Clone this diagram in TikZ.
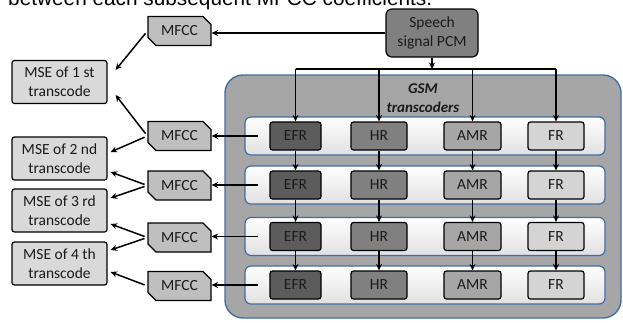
\documentclass[tikz,border=0pt]{standalone}
\usepackage{fontspec}
\setmainfont{Carlito}
\newfontfamily\topfont{Liberation Sans}
\usetikzlibrary{arrows.meta,shapes.misc,calc}
\definecolor{txt}{HTML}{1A1A1A}
\definecolor{blueline}{HTML}{3F6EA8}
\definecolor{contfill}{HTML}{A6A6A6}
\definecolor{efrfill}{HTML}{5C5C5C}
\definecolor{hrfill}{HTML}{808080}
\definecolor{amrfill}{HTML}{A6A6A6}
\definecolor{frfill}{HTML}{D4D4D4}
\definecolor{mfccfill}{HTML}{BFBFBF}
\definecolor{msefill}{HTML}{D9D9D9}
\tikzset{
  lbl/.style={text=txt, font=\fontsize{15.5}{19}\selectfont},
  cbox/.style={lbl, draw=black, line width=1.2pt, rounded corners=2.5pt, minimum height=28pt, inner sep=0pt},
  mfccbox/.style={lbl, draw=black, line width=1.2pt, fill=mfccfill, chamfered rectangle,
    chamfered rectangle corners={north east,south west}, chamfered rectangle xsep=4pt,
    chamfered rectangle ysep=4pt, minimum width=63pt, minimum height=29pt, inner sep=0pt},
  msebox/.style={lbl, draw=black, line width=1.2pt, fill=msefill, rounded corners=2.5pt,
    minimum width=95pt, minimum height=43pt, inner sep=0pt, align=center},
  band/.style={draw=blueline, line width=1.2pt, rounded corners=6pt, top color=white,
    bottom color=black!12, minimum width=360pt, minimum height=38pt, inner sep=0pt},
  arrow/.style={line width=1.5pt, -{Stealth[length=6.5pt,width=6pt]}},
  plain/.style={line width=1.5pt},
}
\begin{document}
\begin{tikzpicture}[x=1pt,y=-1pt]
\useasboundingbox (0,0) rectangle (623,322);
\fill[white] (0,0) rectangle (623,322);
\node[anchor=base west, inner sep=0pt, font=\topfont\fontsize{20.8}{24}\selectfont] (title) at (8,5.5) {between each subsequent MFCC coefficients.};

% container
\node[draw=blueline, line width=1.4pt, fill=contfill, rounded corners=18pt,
  minimum width=396pt, minimum height=243pt, inner sep=0pt] (cont) at (423,196.5) {};
\node[lbl, font=\bfseries\itshape\fontsize{15}{19}\selectfont, align=center] (gsm) at (423,98) {GSM\\transcoders};

% speech
\node[cbox, fill=hrfill, rounded corners=6pt, minimum width=92pt, minimum height=48pt, align=center] (speech) at (432,33) {Speech\\signal PCM};

% bands
\foreach \i/\y in {1/136,2/185,3/236.5,4/285}{
  \node[band] (band\i) at (425,\y) {};
  \node[cbox, fill=efrfill, minimum width=51pt] (efr\i) at (295.5,\y) {EFR};
  \node[cbox, fill=hrfill, minimum width=56pt] (hr\i) at (379,\y) {HR};
  \node[cbox, fill=amrfill, minimum width=57pt] (amr\i) at (472.5,\y) {AMR};
  \node[cbox, fill=frfill, minimum width=56pt] (fr\i) at (556,\y) {FR};
}

% MFCC boxes
\node[mfccbox] (mfcc1) at (179.5,31) {MFCC};
\node[mfccbox] (mfcc2) at (179.5,136) {MFCC};
\node[mfccbox] (mfcc3) at (179.5,185.5) {MFCC};
\node[mfccbox] (mfcc4) at (179.5,237.5) {MFCC};
\node[mfccbox] (mfcc5) at (179.5,286) {MFCC};

% MSE boxes
\node[msebox] (mse1) at (59.5,82) {MSE of 1 st\\transcode};
\node[msebox] (mse2) at (59.5,158.5) {MSE of 2 nd\\transcode};
\node[msebox] (mse3) at (59.5,210.5) {MSE of 3 rd\\transcode};
\node[msebox] (mse4) at (59.5,263.5) {MSE of 4 th\\transcode};

% speech connections
\coordinate (bus) at (432,69);
\draw[arrow] (speech.west) -- (mfcc1.east |- speech.west);
\draw[arrow] (speech.south) -- (bus);
\draw[plain] (efr1.north |- bus) -- (fr1.north |- bus);
\foreach \n in {efr,hr,amr,fr}{
  \draw[arrow] (\n1.north |- bus) -- (\n1.north);
  \draw[arrow] (\n1.south) -- (\n2.north);
  \draw[arrow] (\n2.south) -- (\n3.north);
  \draw[arrow] (\n3.south) -- (\n4.north);
}

% EFR to MFCC
\draw[arrow] ([xshift=-11pt]efr1.west) -- (mfcc2.east |- efr1.west);
\draw[arrow] ([xshift=-11pt]efr2.west) -- (mfcc3.east |- efr2.west);
\draw[arrow] ([xshift=-11pt]efr3.west) -- (mfcc4.east |- efr3.west);
\draw[arrow] ([xshift=-11pt]efr4.west) -- (mfcc5.east |- efr4.west);

% MFCC to MSE
\draw[arrow, shorten <=3pt] (mfcc1.west) -- ($(mse1.east)+(8,-12)$);
\draw[arrow, shorten <=3pt] (mfcc2.west) -- ($(mse1.east)+(8,13)$);
\draw[arrow, shorten <=3pt] (mfcc2.west) -- ($(mse2.east)+(3,-6.5)$);
\draw[arrow, shorten <=3pt] (mfcc3.west) -- ($(mse2.east)+(3,13.5)$);
\draw[arrow, shorten <=3pt] (mfcc3.west) -- ($(mse3.east)+(3,-12.5)$);
\draw[arrow, shorten <=3pt] (mfcc4.west) -- ($(mse3.east)+(3,13.5)$);
\draw[arrow, shorten <=3pt] (mfcc4.west) -- ($(mse4.east)+(3,-13.5)$);
\draw[arrow, shorten <=3pt] (mfcc5.west) -- ($(mse4.east)+(3,8.5)$);
\end{tikzpicture}
\end{document}
